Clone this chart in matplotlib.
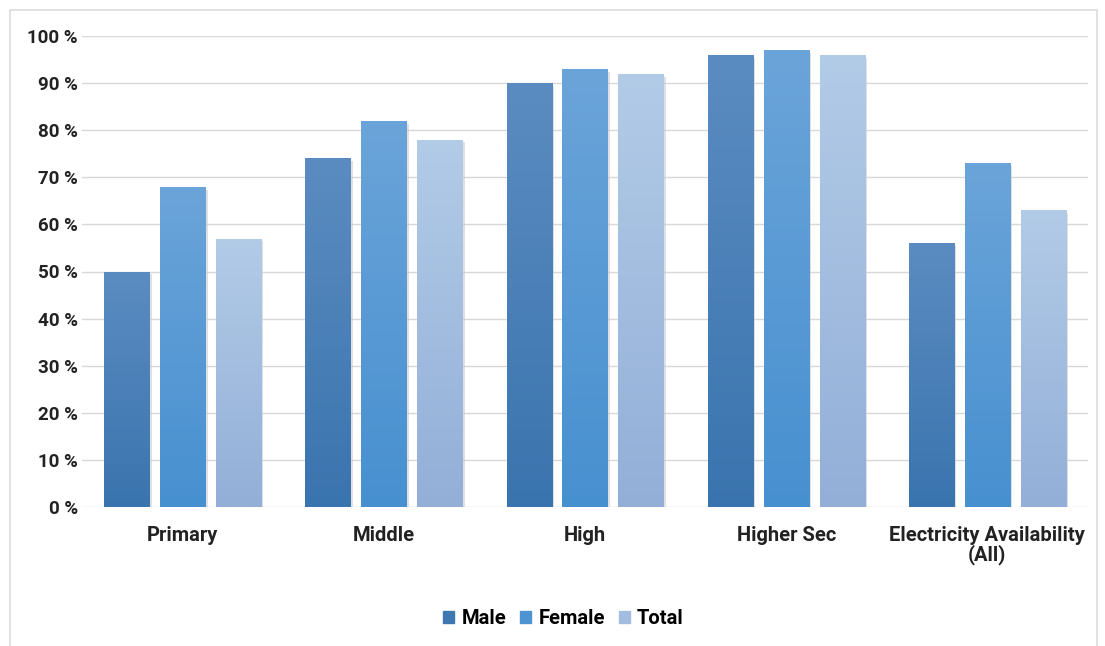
import numpy as np
import matplotlib
matplotlib.use("Agg")
import matplotlib.pyplot as plt
from matplotlib.patches import Rectangle

categories = ["Primary", "Middle", "High", "Higher Sec", "Electricity Availability\n(All)"]
male = [50, 74, 90, 96, 56]
female = [68, 82, 93, 97, 73]
total = [57, 78, 92, 96, 63]
series_names = ["Male", "Female", "Total"]
yticks = [0, 10, 20, 30, 40, 50, 60, 70, 80, 90, 100]

# top / bottom colours of each gradient
grad = [("#5b8cc1", "#3a74ae"), ("#6ba4d9", "#4790d0"), ("#b2cbe7", "#93afd8")]
legend_col = ["#3f77b1", "#4f94d2", "#a3bde0"]

plt.rcParams['font.family'] = ['Roboto', 'DejaVu Sans']

size = 1105, 646
dpi = 100.0
fig = plt.figure(figsize=(size[0]/dpi, size[1]/dpi), dpi=dpi, facecolor="white")

# light frame around the picture
fig.patches.append(Rectangle((10/size[0], -0.01), 1087/size[0], 1 - 10/size[1] + 0.01,
                             transform=fig.transFigure, fill=False,
                             edgecolor="#dcdcdc", lw=1.2))

ax = fig.add_axes([82/size[0], 139/size[1], 1006/size[0], 471/size[1]], frameon=False)
ax.set_xlim(-0.5, len(categories) - 0.5)
ax.set_ylim(0, 100)

x = np.arange(len(categories))
width = 0.224
offset = 0.278
grad_img = np.linspace(1, 0, 256).reshape(-1, 1)

for k, vals in enumerate([male, female, total]):
    top, bot = grad[k]
    cmap = matplotlib.colors.LinearSegmentedColormap.from_list("g%d" % k, [bot, top])
    bars = ax.bar(x + (k - 1) * offset, vals, width, color=legend_col[k],
                  label=series_names[k], zorder=3, linewidth=0)
    for b in bars:
        bx, bw, bh = b.get_x(), b.get_width(), b.get_height()
        # soft shadow on the right side
        ax.add_patch(Rectangle((bx + bw, 0), 0.012, bh - 0.6, color="#c8ccd2",
                               alpha=0.6, lw=0, zorder=2))
        im = ax.imshow(grad_img, extent=[bx, bx + bw, 0, bh], aspect="auto",
                       cmap=cmap, vmin=0, vmax=1, zorder=3.5, origin="upper")
        im.set_clip_path(b)

ax.set_xlim(-0.5, len(categories) - 0.5)
ax.set_ylim(0, 100)

ax.set_yticks(yticks)
ax.set_yticklabels(["%d %%" % v for v in yticks], fontsize=13.5, fontweight="bold",
                   color="#222222")
ax.set_xticks(x)
ax.set_xticklabels(categories, fontsize=14.5, fontweight="bold", color="#222222",
                   linespacing=0.95)
ax.tick_params(axis="both", length=0)
ax.tick_params(axis="y", pad=3)
ax.tick_params(axis="x", pad=14)
ax.grid(axis="y", color="#d8d8d8", lw=1.0, zorder=0)
ax.set_axisbelow(True)

handles = [Rectangle((0, 0), 1, 1, color=c) for c in legend_col]
fig.legend(handles, series_names, loc="center", bbox_to_anchor=(0.51, 0.043),
           ncol=3, frameon=False, handlelength=0.55, handleheight=0.55,
           handletextpad=0.35, columnspacing=0.7,
           prop={"weight": "bold", "size": 14.5})

fig.savefig("out.png", dpi=dpi)
